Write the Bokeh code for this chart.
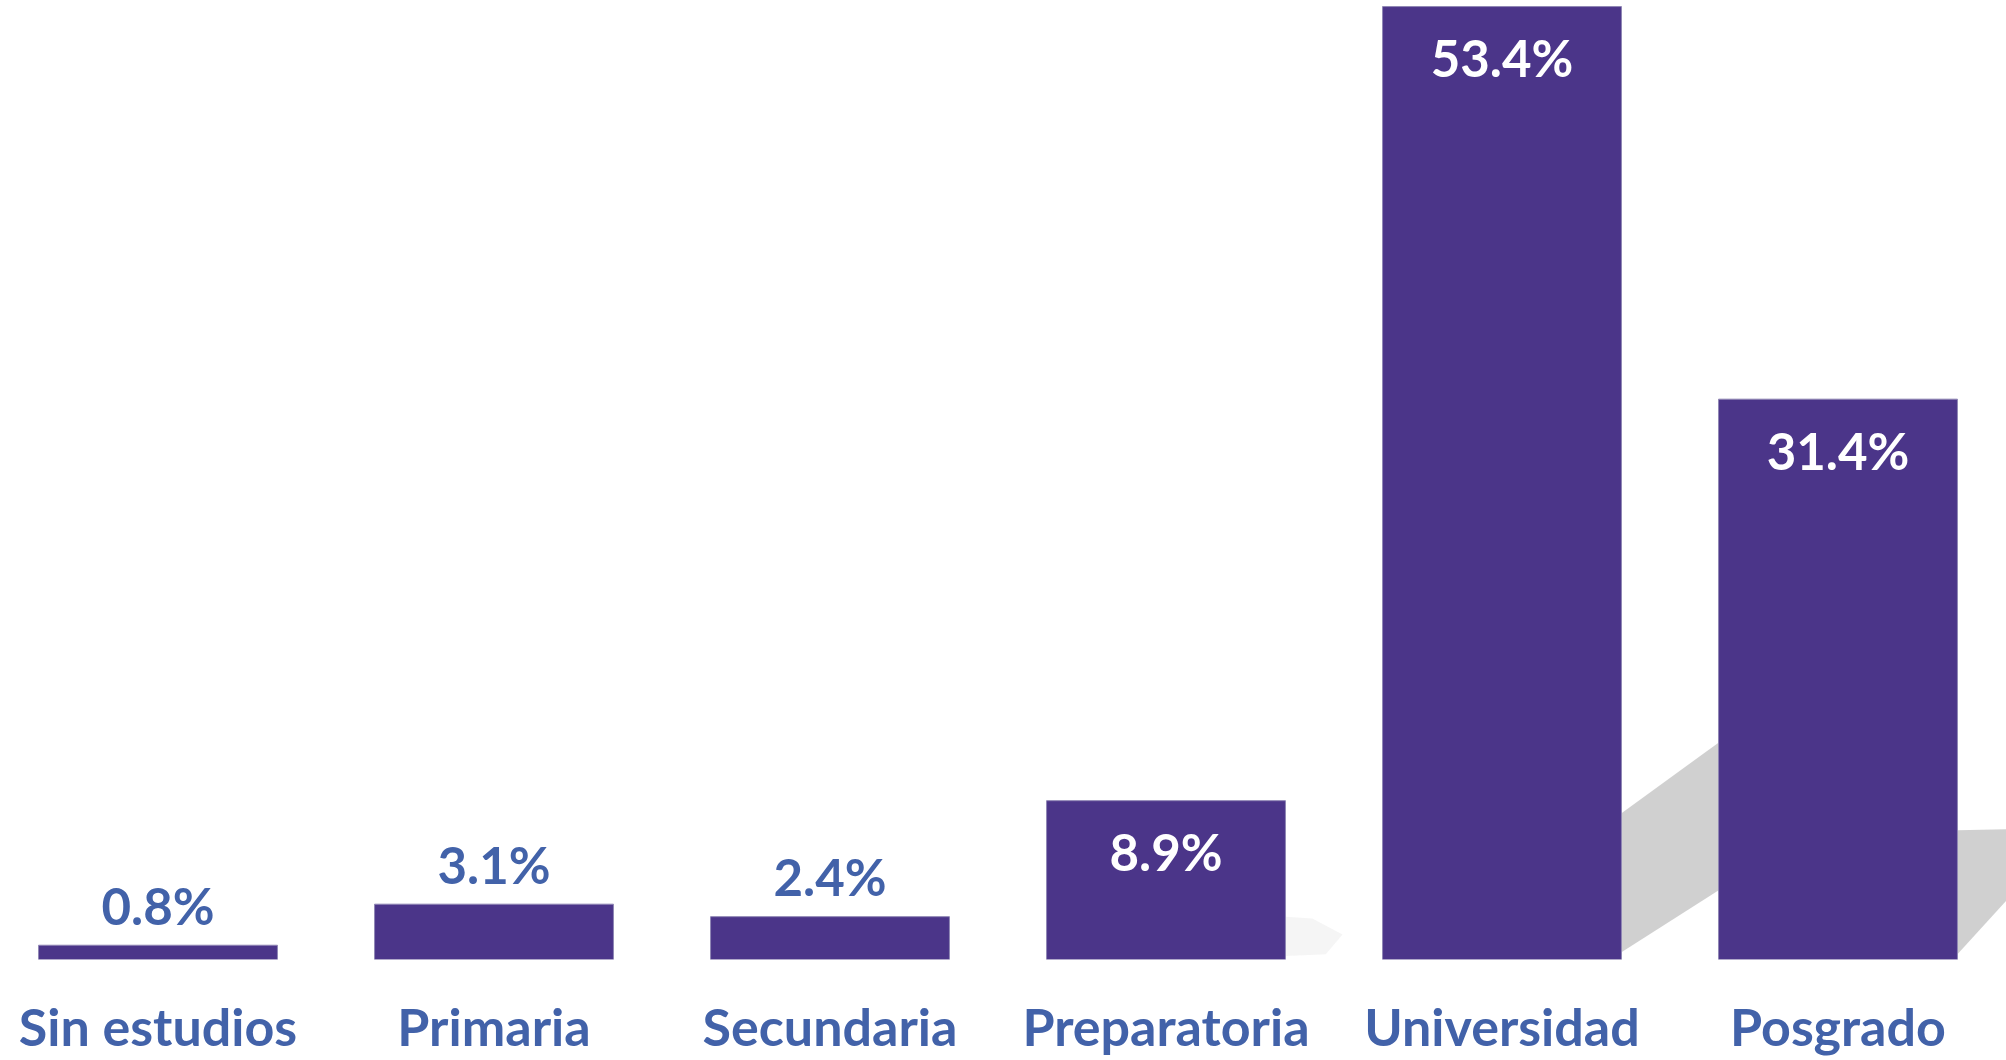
from bokeh.plotting import figure
from bokeh.models import ColumnDataSource, Range1d, FixedTicker
from bokeh.core.properties import value
from bokeh.embed import file_html
from bokeh.resources import INLINE

# ---- data ----
categories = ["Sin estudios", "Primaria", "Secundaria", "Preparatoria", "Universidad", "Posgrado"]
percentages = [0.8, 3.1, 2.4, 8.9, 53.4, 31.4]
value_labels = ["0.8%", "3.1%", "2.4%", "8.9%", "53.4%", "31.4%"]

# ---- style ----
BAR_COLOR = "#4B3589"
TEXT_BLUE = "#4262A9"
BAR_WIDTH = 0.711
INSIDE_THRESHOLD = 5.0

positions = list(range(len(categories)))
inside = [v > INSIDE_THRESHOLD for v in percentages]

bars = ColumnDataSource(dict(x=positions, top=percentages))
lab = ColumnDataSource(dict(
    x=positions,
    y=percentages,
    text=value_labels,
    color=["white" if i else TEXT_BLUE for i in inside],
    yoff=[51 if i else -40 for i in inside],
))

p = figure(width=2006, height=1060, output_backend="svg", toolbar_location=None,
           x_range=Range1d(-0.46875, 5.5015), y_range=Range1d(0, 53.74),
           min_border_left=0, min_border_right=0, min_border_top=0, min_border_bottom=101)
p.outline_line_color = None
p.grid.visible = False
p.yaxis.visible = False
p.background_fill_color = "white"
p.border_fill_color = "white"

# soft cast shadows (decoration, relative to bar right edges)
half = BAR_WIDTH / 2
shadow_specs = [
    (3, [0, 0, 0.08, 0.17, 0.12], [0.2, 2.4, 2.3, 1.4, 0.3], 0.18),
    (4, [0, 0, 0.30, 0.30], [0.4, 8.2, 12.3, 4.0], 0.85),
    (5, [0, 0, 0.16, 0.16], [0.3, 7.24, 7.3, 3.6], 0.85),
]
for idx, dxs, ys, alpha in shadow_specs:
    xr = positions[idx] + half
    p.patch([xr + d for d in dxs], ys, fill_color="#C8C8C8", fill_alpha=alpha, line_color=None)

p.vbar(x="x", top="top", width=BAR_WIDTH, bottom=0, source=bars,
       fill_color=BAR_COLOR, line_color="#8F86B4", line_width=1)

p.text(x="x", y="y", text="text", source=lab, text_color="color", y_offset="yoff",
       text_align="center", text_baseline="alphabetic",
       text_font=value("Lato"), text_font_style="bold", text_font_size="51px")

p.xaxis.ticker = FixedTicker(ticks=positions)
p.xaxis.major_label_overrides = {i: c for i, c in zip(positions, categories)}
p.xaxis.axis_line_color = None
p.xaxis.major_tick_line_color = None
p.xaxis.minor_tick_line_color = None
p.xaxis.major_tick_out = 0
p.xaxis.major_tick_in = 0
p.xaxis.major_label_standoff = 35
p.xaxis.major_label_text_font = "Lato"
p.xaxis.major_label_text_font_style = "bold"
p.xaxis.major_label_text_font_size = "52px"
p.xaxis.major_label_text_line_height = 1.1
p.xaxis.major_label_text_color = TEXT_BLUE

open("out.html", "w").write(file_html(p, INLINE))
